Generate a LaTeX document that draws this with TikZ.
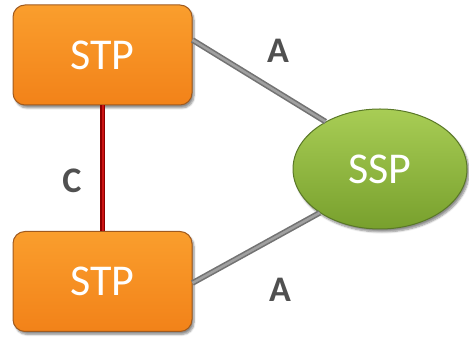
\documentclass[tikz,border=0pt]{standalone}
\usepackage{fontspec}
\setmainfont{Carlito}
\usetikzlibrary{shapes.geometric,shadows.blur}
\definecolor{orangetop}{RGB}{250,158,45}
\definecolor{orangebot}{RGB}{242,130,25}
\definecolor{orangeedge}{RGB}{160,90,30}
\definecolor{greentop}{RGB}{168,205,85}
\definecolor{greenbot}{RGB}{120,160,45}
\definecolor{greenedge}{RGB}{90,120,40}
\definecolor{linkgray}{RGB}{115,115,115}
\definecolor{linkgrayin}{RGB}{160,160,160}
\definecolor{linkred}{RGB}{140,0,0}
\definecolor{linkredin}{RGB}{205,20,20}
\definecolor{labelgray}{RGB}{80,80,80}
\tikzset{
  stpbox/.style={rectangle, rounded corners=12pt, minimum width=179pt, minimum height=100pt,
    top color=orangetop, bottom color=orangebot, draw=orangeedge, line width=1pt,
    blur shadow={shadow xshift=2pt, shadow yshift=-3pt, shadow blur steps=6, shadow opacity=45},
    text=white, font=\fontsize{44}{48}\selectfont, inner sep=0pt},
  sspnode/.style={ellipse, minimum width=174pt, minimum height=120pt,
    top color=greentop, bottom color=greenbot, draw=greenedge, line width=1pt,
    blur shadow={shadow xshift=2pt, shadow yshift=-3pt, shadow blur steps=6, shadow opacity=45},
    text=white, font=\fontsize{44}{48}\selectfont, inner sep=0pt},
  graylink/.style={draw=linkgray, double=linkgrayin, double distance=2.5pt, line width=1.6pt},
  redlink/.style={draw=linkred, double=linkredin, double distance=2pt, line width=1.6pt},
  linklabel/.style={text=labelgray, font=\bfseries\fontsize{36}{38}\selectfont, inner sep=0pt}
}
\begin{document}
\begin{tikzpicture}[x=1pt,y=1pt]
\useasboundingbox (0,0) rectangle (469,339);
\node[stpbox] (stp1) at (102.5,284) {STP};
\node[stpbox] (stp2) at (102.5,57.5) {STP};
\node[sspnode] (ssp) at (380,170) {SSP};
\draw[graylink] ([yshift=15pt]stp1.east) -- (ssp.139);
\draw[graylink] ([yshift=-1.5pt]stp2.east) -- (ssp.216);
\draw[redlink] (stp1.south) -- (stp2.north);
\node[linklabel] (la1) at (278,288) {A};
\node[linklabel] (la2) at (280,49) {A};
\node[linklabel] (lc) at (72,158) {C};
\end{tikzpicture}
\end{document}
